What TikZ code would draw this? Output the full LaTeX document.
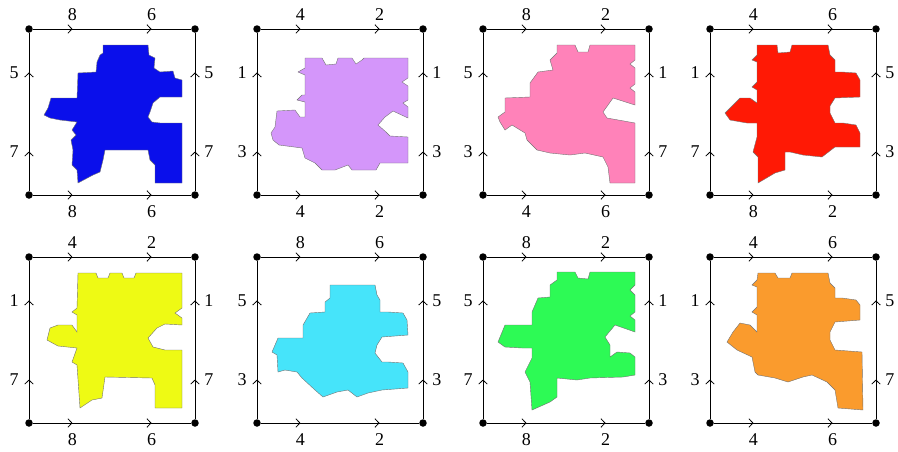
\documentclass[tikz,border=0pt]{standalone}
\usepackage{fontspec}
\setmainfont{Liberation Serif}
\usetikzlibrary{arrows.meta,decorations.markings}
\definecolor{tileblue}{RGB}{10,15,235}
\definecolor{tileviolet}{RGB}{212,150,250}
\definecolor{tilepink}{RGB}{255,130,185}
\definecolor{tilered}{RGB}{255,25,5}
\definecolor{tileyellow}{RGB}{238,250,20}
\definecolor{tilecyan}{RGB}{70,228,250}
\definecolor{tilegreen}{RGB}{45,250,85}
\definecolor{tileorange}{RGB}{250,155,45}
\begin{document}
\begin{tikzpicture}[x=1pt,y=-1pt,
  corner/.style={circle,fill=black,inner sep=0pt,minimum size=7.5pt},
  side/.style={line width=.8pt,postaction=decorate,decoration={markings,
    mark=at position .25 with {\arrow{Straight Barb[length=4pt,width=8.5pt]}},
    mark=at position .75 with {\arrow{Straight Barb[length=4pt,width=8.5pt]}}}},
  lab/.style={inner sep=0pt,font=\fontsize{18}{18}\selectfont},
  tile/.style={draw=black!55,line width=.4pt}]
\useasboundingbox (0,0) rectangle (898,451);
\fill[tile,fill=tileblue] (103,45) -- (148,45) -- (149,55) -- (155,58) -- (154,68) -- (160,72) -- (173,71) -- (175,78) -- (182,80) -- (182,97) -- (160,97) -- (153,103) -- (150,112) -- (148,117) -- (152,122) -- (160,123) -- (182,123) -- (182,183) -- (155,183) -- (155,165) -- (150,160) -- (148,150) -- (105,150) -- (103,160) -- (100,172) -- (93,175) -- (78,183) -- (77,170) -- (72,165) -- (73,150) -- (71,140) -- (76,135) -- (72,130) -- (77,122) -- (60,120) -- (50,118) -- (44,115) -- (48,108) -- (51,98) -- (77,98) -- (78,73) -- (96,72) -- (97,62) -- (100,55) -- (103,53) -- cycle;
\fill[tile,fill=tileviolet] (305,58) -- (322,58) -- (326,65) -- (336,64) -- (338,58) -- (352,58) -- (356,64) -- (362,60) -- (364,58) -- (408,58) -- (408,78) -- (402,82) -- (408,86) -- (408,100) -- (403,103) -- (408,107) -- (408,118) -- (393,111) -- (385,117) -- (378,125) -- (386,132) -- (390,136) -- (408,137) -- (408,163) -- (380,163) -- (376,170) -- (352,170) -- (348,165) -- (335,170) -- (322,170) -- (315,163) -- (305,158) -- (302,148) -- (279,145) -- (273,140) -- (271,133) -- (275,127) -- (277,111) -- (295,110) -- (300,117) -- (305,117) -- (305,102) -- (297,100) -- (302,95) -- (305,95) -- (305,75) -- (298,72) -- (305,68) -- cycle;
\fill[tile,fill=tilepink] (557,45) -- (575,45) -- (578,52) -- (588,52) -- (590,45) -- (635,45) -- (635,60) -- (630,64) -- (635,68) -- (635,84) -- (630,88) -- (635,92) -- (635,105) -- (613,98) -- (603,112) -- (607,118) -- (635,123) -- (635,183) -- (610,183) -- (608,167) -- (603,157) -- (585,153) -- (570,155) -- (550,153) -- (537,150) -- (527,140) -- (525,133) -- (512,125) -- (505,130) -- (500,122) -- (498,117) -- (505,112) -- (505,98) -- (530,97) -- (530,83) -- (538,72) -- (553,70) -- (550,60) -- (557,53) -- cycle;
\fill[tile,fill=tilered] (757,45) -- (777,45) -- (778,53) -- (790,52) -- (792,45) -- (828,45) -- (830,55) -- (835,60) -- (835,72) -- (842,72) -- (856,73) -- (860,80) -- (860,97) -- (835,98) -- (830,106) -- (830,113) -- (835,123) -- (843,123) -- (856,125) -- (860,133) -- (860,147) -- (835,147) -- (822,157) -- (803,155) -- (790,152) -- (785,152) -- (785,170) -- (775,173) -- (758,183) -- (758,157) -- (753,152) -- (757,137) -- (757,123) -- (747,123) -- (730,120) -- (725,113) -- (733,105) -- (740,98) -- (750,98) -- (757,103) -- (757,90) -- (752,87) -- (757,82) -- (757,62) -- (752,60) -- (757,55) -- cycle;
\fill[tile,fill=tileyellow] (78,273) -- (96,273) -- (98,278) -- (108,278) -- (110,273) -- (122,273) -- (124,278) -- (134,278) -- (136,273) -- (182,273) -- (182,308) -- (175,313) -- (182,318) -- (182,325) -- (165,324) -- (157,328) -- (148,338) -- (153,347) -- (165,350) -- (182,350) -- (182,408) -- (155,408) -- (155,385) -- (152,378) -- (105,377) -- (102,398) -- (92,400) -- (80,408) -- (77,365) -- (72,362) -- (77,348) -- (58,346) -- (47,340) -- (50,328) -- (58,325) -- (72,325) -- (77,332) -- (77,315) -- (72,312) -- (77,308) -- cycle;
\fill[tile,fill=tilecyan] (330,285) -- (375,285) -- (377,295) -- (380,300) -- (380,312) -- (388,312) -- (403,313) -- (407,320) -- (408,335) -- (382,337) -- (377,345) -- (375,353) -- (382,362) -- (388,362) -- (403,363) -- (408,372) -- (408,388) -- (382,390) -- (368,393) -- (357,397) -- (348,390) -- (337,392) -- (323,397) -- (315,390) -- (302,378) -- (297,372) -- (285,370) -- (278,372) -- (277,355) -- (272,352) -- (278,338) -- (303,338) -- (303,325) -- (310,313) -- (325,312) -- (325,302) -- (330,298) -- cycle;
\fill[tile,fill=tilegreen] (557,272) -- (575,272) -- (578,278) -- (588,279) -- (590,272) -- (635,272) -- (635,285) -- (630,290) -- (635,295) -- (635,312) -- (630,316) -- (635,320) -- (635,332) -- (615,325) -- (605,337) -- (610,345) -- (610,357) -- (617,352) -- (630,353) -- (635,357) -- (635,375) -- (623,377) -- (590,378) -- (577,380) -- (557,378) -- (557,397) -- (550,402) -- (532,410) -- (530,382) -- (525,372) -- (532,358) -- (532,348) -- (522,348) -- (505,347) -- (498,342) -- (505,325) -- (532,325) -- (532,312) -- (538,298) -- (550,297) -- (550,285) -- (557,280) -- cycle;
\fill[tile,fill=tileorange] (758,273) -- (775,273) -- (778,278) -- (790,278) -- (792,273) -- (828,273) -- (830,283) -- (835,288) -- (835,298) -- (842,298) -- (856,300) -- (860,305) -- (860,320) -- (835,322) -- (830,332) -- (830,340) -- (835,350) -- (862,352) -- (863,410) -- (838,408) -- (835,390) -- (827,382) -- (812,375) -- (803,377) -- (788,382) -- (775,378) -- (758,375) -- (755,372) -- (752,357) -- (737,350) -- (727,342) -- (733,332) -- (740,323) -- (750,325) -- (757,332) -- (757,315) -- (752,312) -- (757,307) -- (757,287) -- (752,285) -- (757,280) -- cycle;
\foreach \n/\X/\Y/\ta/\tb/\ba/\bb/\la/\lb/\ra/\rb in {
  1/29/29/8/6/8/6/5/7/5/7, 2/257/29/4/2/4/2/1/3/1/3,
  3/483/29/8/2/4/6/5/3/1/7, 4/710/29/4/6/8/2/1/7/5/3,
  5/29/257/4/2/8/6/1/7/1/7, 6/257/257/8/6/4/2/5/3/5/3,
  7/483/257/8/2/8/2/5/7/1/3, 8/710/257/4/6/4/6/1/3/5/7}{
  \node[corner] (c\n-tl) at (\X,\Y) {};
  \node[corner] (c\n-tr) at (\X+166,\Y) {};
  \node[corner] (c\n-bl) at (\X,\Y+166) {};
  \node[corner] (c\n-br) at (\X+166,\Y+166) {};
  \draw[side] (c\n-tl) -- node[lab,pos=.25,above=8pt] {\ta} node[lab,pos=.75,above=8pt] {\tb} (c\n-tr);
  \draw[side] (c\n-bl) -- node[lab,pos=.25,below=10pt] {\ba} node[lab,pos=.75,below=10pt] {\bb} (c\n-br);
  \draw[side] (c\n-bl) -- node[lab,pos=.25,left=10pt] {\lb} node[lab,pos=.75,left=10pt] {\la} (c\n-tl);
  \draw[side] (c\n-br) -- node[lab,pos=.25,right=9pt] {\rb} node[lab,pos=.75,right=9pt] {\ra} (c\n-tr);
}
\end{tikzpicture}
\end{document}
